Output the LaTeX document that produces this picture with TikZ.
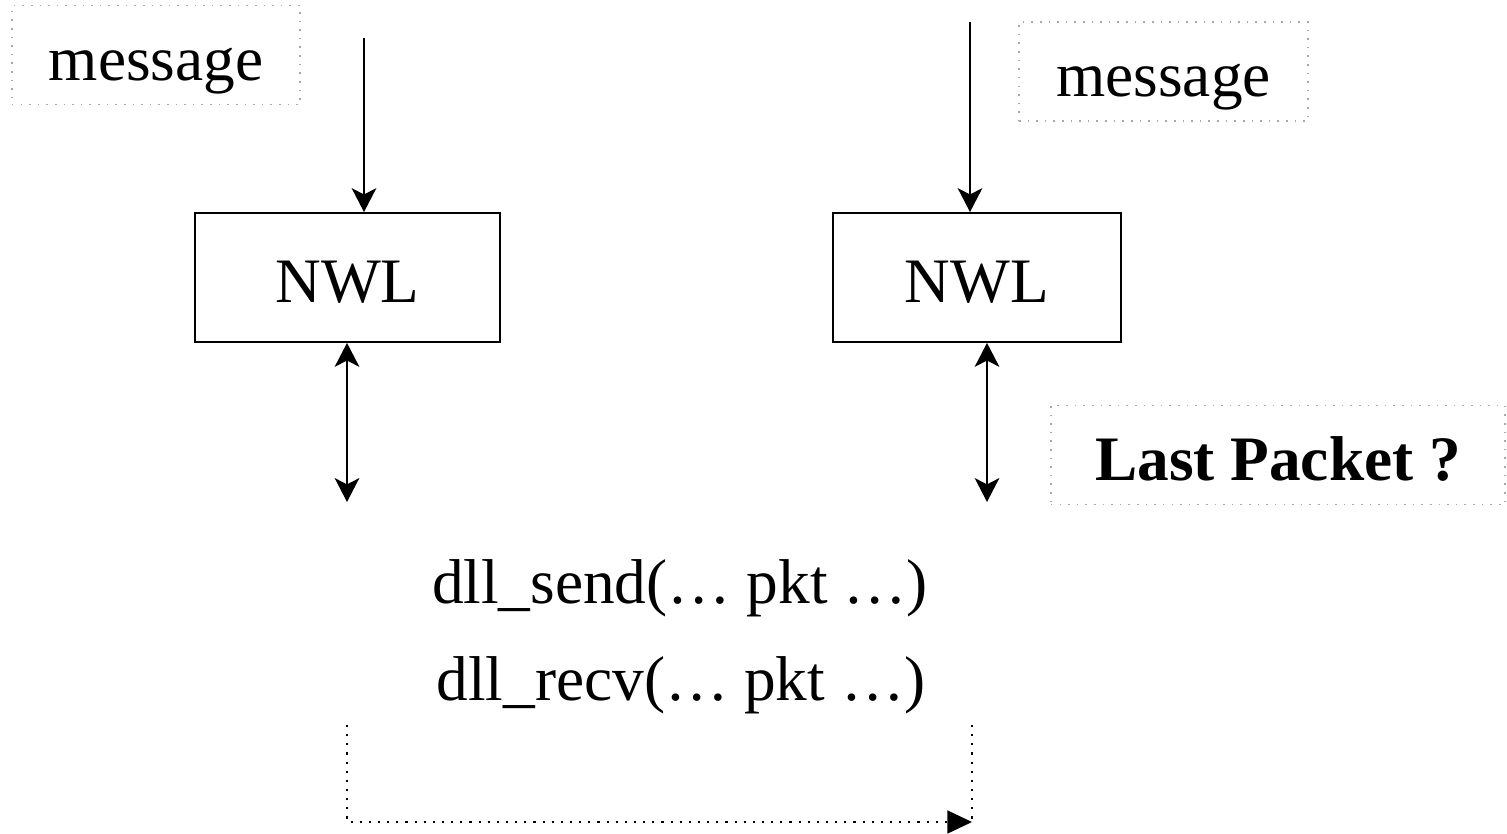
\documentclass[tikz,border=0pt]{standalone}
\usepackage{fontspec}
\setmainfont{Liberation Serif}
\usetikzlibrary{positioning, arrows.meta}
\definecolor{noteGrey}{HTML}{A8A8A8}

\begin{document}
\begin{tikzpicture}[x=0.01cm, y=-0.01cm, font=\fontsize{18}{21}\selectfont,
    every node/.style={text height=0.6cm, text depth=0.1cm},
    nwlbox/.style={draw, line width=0.5pt, inner sep=0pt, minimum height=1.29cm},
    notebox/.style={draw=noteGrey, dotted, line width=0.45pt, inner sep=0pt, minimum height=0.99cm},
    flow/.style={-{Stealth[length=6.8pt, width=7pt, inset=1.8pt]}, line width=0.6pt},
    both/.style={{Stealth[length=6.8pt, width=7pt, inset=1.8pt]}-{Stealth[length=6.8pt, width=7pt, inset=1.8pt]}, line width=0.6pt}]
    \useasboundingbox (0,0) rectangle (1507,834);
    \node[nwlbox, minimum width=3.05cm] (nwl1) at (347.5,277.5) {NWL};
    \node[nwlbox, minimum width=2.88cm] (nwl2) at (977,277.5) {NWL};
    \node[notebox, minimum width=2.88cm] (msg1) at (156,55) {message};
    \node[notebox, minimum width=2.89cm] (msg2) at (1163.5,71.5) {message};
    \node[notebox, minimum width=4.54cm, font=\fontsize{18}{21}\selectfont\bfseries] (last) at (1278,455) {Last Packet ?};
    \node (send) at (680,578) {dll\_send(… pkt …)};
    \node (recv) at (681,675) {dll\_recv(… pkt …)};
    \coordinate (in1) at (364,38);
    \coordinate (in2) at (970,22);
    \coordinate (lo1) at (347,502);
    \coordinate (lo2) at (987,502);
    \coordinate (t1) at (347,725);
    \coordinate (t2) at (972,725);
    \coordinate (b2) at (972,822);
    \draw[flow] (in1) -- (in1 |- nwl1.north);
    \draw[flow] (in2) -- (in2 |- nwl2.north);
    \draw[both] (nwl1.south -| lo1) -- (lo1);
    \draw[both] (nwl2.south -| lo2) -- (lo2);
    % dotted path under the calls
    \draw[dotted, line width=0.6pt, -{Triangle[length=7pt, width=6.5pt]}] (t1) |- (b2);
    \draw[dotted, line width=0.6pt] (t2) -- (b2);
\end{tikzpicture}
\end{document}
